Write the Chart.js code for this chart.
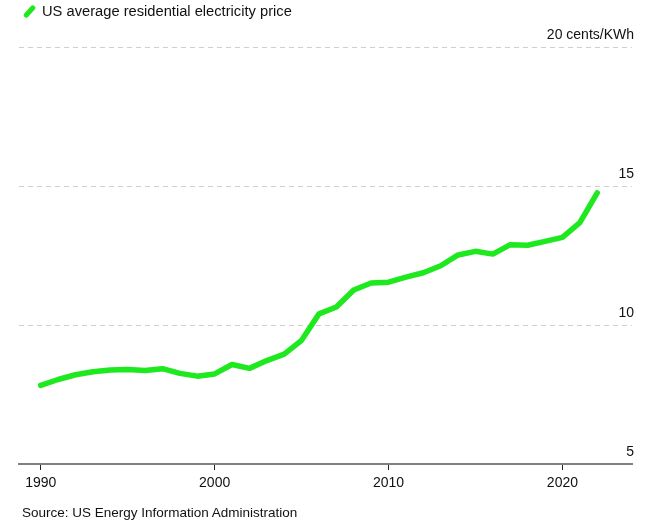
<!DOCTYPE html>
<html><head><meta charset="utf-8">
<script src="https://cdn.jsdelivr.net/npm/chart.js@4"></script>
<style>
body{margin:0;background:#fff;font-family:"Liberation Sans",Arial,sans-serif;}
#wrap{position:relative;width:657px;height:530px;overflow:hidden;}
canvas{position:absolute;left:0;top:0;}
#legend{position:absolute;left:22px;top:2px;font-size:14.7px;line-height:18px;color:#111;display:flex;align-items:center;}
.icon{display:inline-block;width:15px;height:5px;background:#1ee81e;border-radius:3px;transform:rotate(-48deg);margin-right:5px;}
#source{position:absolute;left:22px;top:505px;font-size:13.5px;line-height:16px;color:#111;}
</style></head><body>
<div id="wrap"><canvas id="c" width="657" height="530"></canvas>
<div id="legend"><span class="icon"></span>US average residential electricity price</div>
<div id="source">Source: US Energy Information Administration</div></div>
<script>
const years=[1990,1991,1992,1993,1994,1995,1996,1997,1998,1999,2000,2001,2002,2003,2004,2005,2006,2007,2008,2009,2010,2011,2012,2013,2014,2015,2016,2017,2018,2019,2020,2021,2022];
const prices=[7.83,8.04,8.21,8.32,8.38,8.40,8.36,8.43,8.26,8.16,8.24,8.58,8.44,8.72,8.95,9.45,10.40,10.65,11.26,11.51,11.54,11.72,11.88,12.13,12.52,12.65,12.55,12.89,12.87,13.01,13.15,13.68,14.75];
const xTicks=[1990,2000,2010,2020];
const yTicks=[5,10,15,20];
const yUnit=' cents/KWh';

const FONT='"Liberation Sans", Arial, sans-serif';
new Chart(document.getElementById('c'),{
  type:'line',
  data:{datasets:[{
    label:'US average residential electricity price',
    data:years.map((y,i)=>({x:y,y:prices[i]})),
    borderColor:'#1ee81e',borderWidth:5.5,pointRadius:0,tension:0,
    borderJoinStyle:'round',borderCapStyle:'round',fill:false
  }]},
  options:{
    responsive:false,animation:false,
    layout:{padding:{left:19,right:25,top:47,bottom:26}},
    plugins:{legend:{display:false},tooltip:{enabled:false}},
    scales:{
      x:{type:'linear',min:1988.75,max:2024,
        afterBuildTicks:s=>{s.ticks=xTicks.map(v=>({value:v}));},
        afterFit:s=>{s.height=40;},
        grid:{drawOnChartArea:false,drawTicks:true,tickLength:6,tickColor:'#222',tickWidth:1},
        border:{display:true,color:'#808080',width:2},
        ticks:{font:{size:14,family:FONT},color:'#111',padding:5,maxRotation:0,callback:v=>String(v)}
      },
      y:{position:'right',min:5,max:20,
        afterBuildTicks:s=>{s.ticks=yTicks.map(v=>({value:v}));},
        afterFit:s=>{s.width=0;},
        grid:{color:c=>c.tick&&c.tick.value===5?'rgba(0,0,0,0)':'#cfcfcf',lineWidth:1,drawTicks:false},
        border:{display:false,dash:[5,4]},
        ticks:{mirror:true,padding:2,labelOffset:-12,font:{size:14,family:FONT},color:'#111',
          callback:v=>v===20?String(v)+yUnit:String(v)}
      }
    }
  }
});
</script>
</body></html>
